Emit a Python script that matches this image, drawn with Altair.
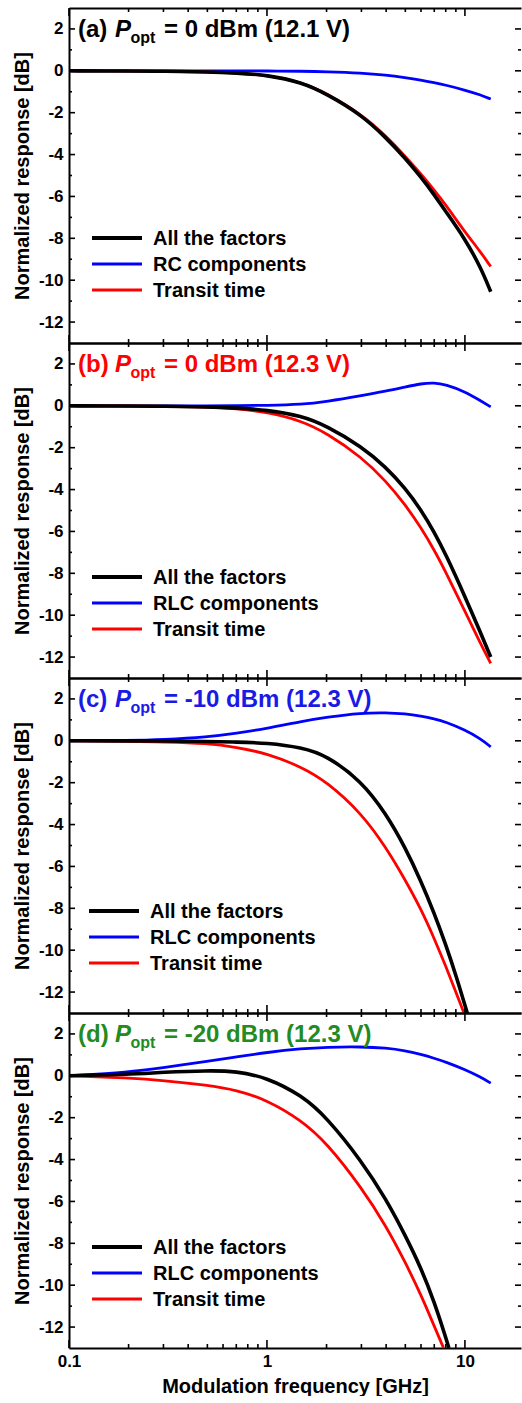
import altair as alt
import pandas as pd

FONT = "Liberation Sans"

# ---------------------------------------------------------------- data
# Modulation frequency grid [GHz]
FREQ = [0.1, 0.2, 0.3, 0.5, 0.7, 1.0, 1.5, 2.0, 3.0, 4.0, 5.0, 6.0, 7.0, 8.0, 10.0, 12.0, 13.5]

# (a) P_opt = 0 dBm, 12.1 V
A_ALL = [0.0, -0.01, -0.02, -0.05, -0.1, -0.2, -0.55, -1.1, -2.1, -3.2, -4.18, -5.08, -5.92, -6.72, -8.02, -9.38, -10.55]
A_RC = [0.0, 0.0, 0.0, 0.0, 0.0, -0.01, -0.02, -0.04, -0.1, -0.2, -0.33, -0.45, -0.57, -0.68, -0.92, -1.15, -1.35]
A_TT = [0.0, -0.01, -0.02, -0.05, -0.1, -0.2, -0.55, -1.08, -2.07, -3.12, -4.08, -4.93, -5.7, -6.4, -7.7, -8.65, -9.35]

# (b) P_opt = 0 dBm, 12.3 V
B_ALL = [0.0, -0.01, -0.02, -0.05, -0.1, -0.2, -0.48, -0.96, -1.94, -2.94, -3.94, -4.97, -6.03, -7.09, -9.1, -10.84, -12.0]
B_RLC = [0.0, 0.0, 0.0, 0.0, 0.01, 0.02, 0.06, 0.2, 0.48, 0.7, 0.9, 1.06, 1.11, 1.01, 0.68, 0.24, -0.05]
B_TT = [0.0, -0.01, -0.02, -0.06, -0.13, -0.3, -0.72, -1.3, -2.44, -3.6, -4.73, -5.82, -6.89, -7.93, -9.82, -11.36, -12.3]

# (c) P_opt = -10 dBm, 12.3 V
C_ALL_FREQ = [0.1, 0.2, 0.3, 0.5, 0.7, 1.0, 1.5, 2.0, 3.0, 4.0, 5.0, 6.0, 7.0, 8.0, 9.0, 10.0, 10.28]
C_ALL = [0.0, 0.0, -0.01, -0.03, -0.06, -0.1, -0.32, -0.7, -1.92, -3.49, -5.11, -6.7, -8.24, -9.73, -11.19, -12.63, -13.0]
C_RLC = [0.0, 0.02, 0.06, 0.18, 0.36, 0.59, 0.93, 1.13, 1.33, 1.35, 1.29, 1.18, 1.05, 0.9, 0.52, 0.1, -0.29]
C_TT_FREQ = [0.1, 0.2, 0.3, 0.5, 0.7, 1.0, 1.5, 2.0, 3.0, 4.0, 5.0, 6.0, 7.0, 8.0, 9.0, 9.89]
C_TT = [0.0, -0.02, -0.05, -0.12, -0.3, -0.6, -1.25, -1.95, -3.45, -5.1, -6.65, -8.04, -9.44, -10.76, -12.0, -13.0]

# (d) P_opt = -20 dBm, 12.3 V
D_ALL_FREQ = [0.1, 0.2, 0.3, 0.5, 0.7, 1.0, 1.5, 2.0, 3.0, 4.0, 5.0, 6.0, 7.0, 8.0, 8.3]
D_ALL = [0.0, 0.07, 0.17, 0.25, 0.22, -0.08, -0.94, -1.98, -4.06, -5.9, -7.63, -9.18, -10.79, -12.49, -13.0]
D_RLC = [0.0, 0.17, 0.39, 0.69, 0.9, 1.12, 1.3, 1.37, 1.39, 1.33, 1.2, 1.02, 0.84, 0.66, 0.3, -0.06, -0.35]
D_TT_FREQ = [0.1, 0.2, 0.3, 0.5, 0.7, 1.0, 1.5, 2.0, 3.0, 4.0, 5.0, 6.0, 7.0, 7.8]
D_TT = [0.0, -0.1, -0.22, -0.45, -0.68, -1.15, -2.14, -3.2, -5.33, -7.18, -8.91, -10.46, -11.96, -13.0]

# Axis ticks
X_MAJOR = [0.1, 1, 10]
X_MINOR = [0.2, 0.3, 0.4, 0.5, 0.6, 0.7, 0.8, 0.9, 2, 3, 4, 5, 6, 7, 8, 9]
Y_MAJOR = [-12, -10, -8, -6, -4, -2, 0, 2]
Y_MINOR = [-11, -9, -7, -5, -3, -1, 1]

LEGEND_NAMES = ["All the factors", "RLC components", "Transit time"]

# ---------------------------------------------------------------- layout
W, H = 452, 335
XS = alt.Scale(type="log", domain=[0.1, 19.2], nice=False)
YS = alt.Scale(domain=[-13, 3], nice=False, zero=False)
ONE = pd.DataFrame({"k": [0]})

BLACK, BLUE, RED = "#000000", "#0000ff", "#ff0000"


def curve(freq, vals, color, width, axes=False, last=False):
    df = pd.DataFrame({"f": freq, "v": vals})
    if axes:
        x_axis = alt.Axis(
            orient="bottom", values=X_MAJOR, labels=last, ticks=False, grid=False,
            labelExpr="datum.value + ''", labelFlush=False, labelOverlap=False,
            labelPadding=5, titlePadding=7,
            title="Modulation frequency [GHz]" if last else "",
        )
        y_axis = alt.Axis(
            orient="left", values=Y_MAJOR, ticks=False, grid=False,
            labelExpr="datum.value + ''", labelFlush=False, labelOverlap=False,
            labelPadding=6, titlePadding=6, title="Normalized response [dB]",
        )
        x = alt.X("f:Q", scale=XS, axis=x_axis)
        y = alt.Y("v:Q", scale=YS, axis=y_axis)
    else:
        x = alt.X("f:Q", scale=XS, axis=None)
        y = alt.Y("v:Q", scale=YS, axis=None)
    return (
        alt.Chart(df)
        .mark_line(color=color, strokeWidth=width, interpolate="basis", clip=True)
        .encode(x=x, y=y)
    )


def tick_layers():
    layers = []
    # frame top: axis carrying only the domain line
    top_axis = alt.Axis(orient="top", labels=False, ticks=False, grid=False, domain=True, title="")
    for vals, size, with_axis in ((X_MAJOR, 8, True), (X_MINOR, 4, False)):
        df = pd.DataFrame({"t": vals})
        layers.append(
            alt.Chart(df).mark_rule(color="black", strokeWidth=1.6)
            .encode(x=alt.X("t:Q", scale=XS, axis=top_axis if with_axis else None),
                    y=alt.value(0), y2=alt.value(size))
        )
        layers.append(
            alt.Chart(df).mark_rule(color="black", strokeWidth=1.6)
            .encode(x=alt.X("t:Q", scale=XS, axis=None),
                    y=alt.value(H), y2=alt.value(H - size))
        )
    for vals, size in ((Y_MAJOR, 6), (Y_MINOR, 3)):
        df = pd.DataFrame({"t": vals})
        layers.append(
            alt.Chart(df).mark_rule(color="black", strokeWidth=1.6)
            .encode(y=alt.Y("t:Q", scale=YS, axis=None), x=alt.value(0), x2=alt.value(size))
        )
        layers.append(
            alt.Chart(df).mark_rule(color="black", strokeWidth=1.6)
            .encode(y=alt.Y("t:Q", scale=YS, axis=None), x=alt.value(W), x2=alt.value(W - size))
        )
    return layers


def text(t, x, y, size, color="black", style="normal"):
    return (
        alt.Chart(ONE)
        .mark_text(text=t, font=FONT, fontSize=size, fontWeight="bold", fontStyle=style,
                   color=color, align="left", baseline="alphabetic")
        .encode(x=alt.value(x), y=alt.value(y))
    )


def rule(x1, x2, y, color, width):
    return (
        alt.Chart(ONE)
        .mark_rule(color=color, strokeWidth=width)
        .encode(x=alt.value(x1), x2=alt.value(x2), y=alt.value(y))
    )


def panel(tag, rest, title_color, curves, names, legend_top, legend_dx=0, last=False):
    layers = []
    # curves: RC/RLC first, transit time next, all-factors on top
    (fa, va), (fr, vr), (ft, vt) = curves
    layers.append(curve(fr, vr, BLUE, 2.8, axes=True, last=last))
    layers.append(curve(ft, vt, RED, 2.8))
    layers.append(curve(fa, va, BLACK, 3.6))
    layers += tick_layers()

    # panel heading: (x) P_opt = ...
    layers.append(text(tag, 9, 29, 24, title_color))
    layers.append(text("P", 46, 29, 24, title_color, "italic"))
    layers.append(text("opt", 61.5, 35, 16, title_color))
    layers.append(text(rest, 95, 29, 24, title_color))

    # legend
    swatches = [(BLACK, 4), (BLUE, 3.2), (RED, 3.2)]
    for i, (name, (col, sw)) in enumerate(zip(names, swatches)):
        yy = legend_top + 26 * i
        layers.append(rule(23 + legend_dx, 73 + legend_dx, yy, col, sw))
        layers.append(text(name, 84 + legend_dx, yy + 7, 20))

    return (
        alt.layer(*layers)
        .resolve_axis(x="independent", y="independent")
        .properties(width=W, height=H)
    )


pa = panel("(a)", "= 0 dBm (12.1 V)", "#000000",
           [(FREQ, A_ALL), (FREQ, A_RC), (FREQ, A_TT)],
           ["All the factors", "RC components", "Transit time"], 230)
pb = panel("(b)", "= 0 dBm (12.3 V)", "#ff0000",
           [(FREQ, B_ALL), (FREQ, B_RLC), (FREQ, B_TT)],
           LEGEND_NAMES, 234)
pc = panel("(c)", "= -10 dBm (12.3 V)", "#1a1ae6",
           [(C_ALL_FREQ, C_ALL), (FREQ, C_RLC), (C_TT_FREQ, C_TT)],
           LEGEND_NAMES, 233, legend_dx=-3)
pd_ = panel("(d)", "= -20 dBm (12.3 V)", "#228b22",
            [(D_ALL_FREQ, D_ALL), (FREQ, D_RLC), (D_TT_FREQ, D_TT)],
            LEGEND_NAMES, 234, last=True)

chart = (
    alt.vconcat(pa, pb, pc, pd_, spacing=0, bounds="flush")
    .properties(padding={"left": 12, "top": 7, "right": 0, "bottom": 0}, background="white")
    .configure_view(stroke=None)
    .configure_axis(
        labelFont=FONT, titleFont=FONT, labelFontSize=17, titleFontSize=20,
        labelFontWeight="bold", titleFontWeight="bold",
        labelColor="black", titleColor="black",
        domainColor="black", domainWidth=2,
    )
)

chart.save("out.html", embed_options={"renderer": "svg", "actions": False})
